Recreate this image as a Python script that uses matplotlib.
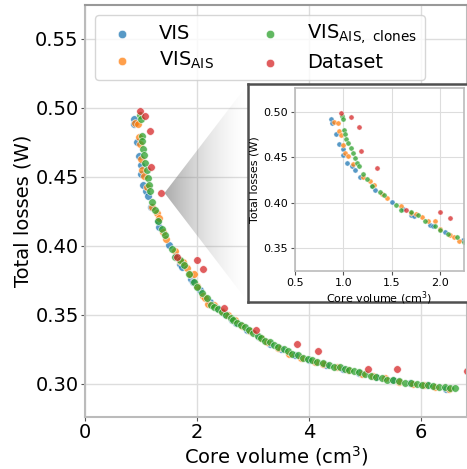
import numpy as np
import matplotlib
matplotlib.use("Agg")
import matplotlib.pyplot as plt
from matplotlib.patches import Polygon

# VIS
vis_x = [0.87, 0.88, 0.92, 0.96, 1.00, 1.00, 1.04, 1.09, 1.12, 1.17, 1.30, 1.33,
         1.50, 1.62, 1.70, 1.73, 1.90, 1.93, 2.05, 2.24, 2.35, 2.50, 2.62, 2.70,
         2.90, 3.10, 3.30, 3.50, 3.75, 4.00, 4.30, 4.60, 4.90, 5.20, 5.50, 5.80,
         6.10, 6.45]
vis_y = [0.492, 0.488, 0.475, 0.465, 0.459, 0.452, 0.444, 0.440, 0.436, 0.428, 0.418, 0.414,
         0.401, 0.393, 0.387, 0.385, 0.376, 0.374, 0.368, 0.359, 0.355, 0.351, 0.346, 0.344,
         0.339, 0.334, 0.329, 0.325, 0.321, 0.317, 0.314, 0.311, 0.308, 0.305, 0.3025, 0.3005,
         0.299, 0.2965]

# VIS_AIS
ais_x = [0.90, 0.95, 0.96, 0.98, 1.00, 1.02, 1.05, 1.10, 1.20, 1.28, 1.32, 1.40,
         1.45, 1.60, 1.70, 1.75, 1.82, 1.88, 1.95, 2.00, 2.10, 2.15, 2.20, 2.30,
         2.45, 2.55, 2.68, 2.80, 2.95, 3.15, 3.25, 3.45, 3.65, 3.85, 4.10, 4.25,
         4.50, 4.70, 4.95, 5.15, 5.35, 5.60, 5.85, 6.05, 6.25, 6.50]
ais_y = [0.489, 0.488, 0.479, 0.474, 0.463, 0.455, 0.451, 0.443, 0.428, 0.424, 0.420, 0.410,
         0.405, 0.396, 0.389, 0.388, 0.384, 0.380, 0.380, 0.371, 0.364, 0.362, 0.358, 0.357,
         0.353, 0.350, 0.346, 0.342, 0.338, 0.333, 0.330, 0.326, 0.322, 0.319, 0.316, 0.3145,
         0.312, 0.310, 0.3075, 0.3055, 0.304, 0.3015, 0.300, 0.2995, 0.298, 0.2965]

# VIS_AIS, clones
cl_x = [0.99, 1.00, 1.01, 1.02, 1.03, 1.05, 1.08, 1.10, 1.12, 1.14, 1.16, 1.20,
        1.25, 1.30, 1.38, 1.42, 1.55, 1.60, 1.70, 1.77, 1.85, 1.95, 2.00, 2.08,
        2.18, 2.25, 2.30, 2.38, 2.45, 2.52, 2.60, 2.65, 2.72, 2.78, 2.85, 2.92,
        3.00, 3.08, 3.15, 3.22, 3.30, 3.38, 3.45, 3.55, 3.62, 3.70, 3.80, 3.90,
        3.98, 4.05, 4.15, 4.25, 4.35, 4.45, 4.55, 4.65, 4.72, 4.80, 4.90, 5.00,
        5.10, 5.20, 5.30, 5.40, 5.50, 5.60, 5.72, 5.82, 5.92, 6.02, 6.12, 6.22,
        6.32, 6.42, 6.52, 6.60]
cl_y = [0.495, 0.492, 0.480, 0.476, 0.470, 0.466, 0.460, 0.455, 0.449, 0.444, 0.440, 0.432,
        0.426, 0.418, 0.412, 0.408, 0.398, 0.392, 0.390, 0.386, 0.380, 0.374, 0.370, 0.366,
        0.362, 0.357, 0.356, 0.354, 0.352, 0.350, 0.348, 0.346, 0.344, 0.343, 0.341, 0.339,
        0.337, 0.335, 0.333, 0.331, 0.330, 0.328, 0.327, 0.325, 0.324, 0.322, 0.321, 0.319,
        0.318, 0.3175, 0.316, 0.315, 0.3135, 0.3125, 0.312, 0.3105, 0.310, 0.3095, 0.3085, 0.307,
        0.306, 0.305, 0.304, 0.303, 0.3025, 0.302, 0.301, 0.3005, 0.300, 0.2995, 0.299, 0.2985,
        0.298, 0.2975, 0.297, 0.297]

# Dataset
ds_x = [0.98, 1.08, 1.16, 1.18, 1.35, 1.65, 2.00, 2.11, 2.48, 3.05, 3.78, 4.16,
        5.05, 5.57, 6.82]
ds_y = [0.498, 0.494, 0.483, 0.457, 0.438, 0.392, 0.390, 0.383, 0.355, 0.339, 0.329, 0.324,
        0.311, 0.311, 0.309]

series = [
    (vis_x, vis_y, '#1f77b4', 'VIS'),
    (ais_x, ais_y, '#ff7f0e', r'VIS$_{\mathrm{AIS}}$'),
    (cl_x, cl_y, '#2ca02c', r'VIS$_{\mathrm{AIS,\ clones}}$'),
    (ds_x, ds_y, '#d62728', 'Dataset'),
]

W, H = 467, 469
fig = plt.figure(figsize=(W / 100, H / 100), dpi=100)
ax = fig.add_axes([85 / W, (H - 417) / H, (W - 85) / W, (417 - 5) / H])


def style(a, fs, lw, pad):
    a.grid(True, color='#dddddd', linewidth=lw)
    a.set_axisbelow(True)
    for s in a.spines.values():
        s.set_color('#bbbbbb')
        s.set_linewidth(lw * 1.5)
    a.tick_params(labelsize=fs, color='#555555', length=3, pad=pad)


for x, y, c, lab in series:
    ax.scatter(x, y, s=30, color=c, alpha=0.75, edgecolor='white', linewidth=0.5, label=lab)

xlim = (0, 6.82)
ylim = (0.276, 0.5746)
ax.set_xlim(xlim)
ax.set_ylim(ylim)
ax.set_xticks([0, 2, 4, 6])
ax.set_yticks([0.30, 0.35, 0.40, 0.45, 0.50, 0.55])
style(ax, 14, 1.0, 1.5)
ax.spines['top'].set_color('#999999')
ax.set_xlabel('Core volume (cm$^3$)', fontsize=14, labelpad=1)
ax.set_ylabel('Total losses (W)', fontsize=14, labelpad=2)
ax.legend(loc='upper left', ncol=2, fontsize=14, handletextpad=0.9,
          columnspacing=1.9, labelspacing=0.35, markerscale=1.1)

# zoom cone from the main curve to the inset box
fx0, fy_top, fy_bot = 248 / W, (H - 84) / H, (H - 302) / H
inv = ax.transData.inverted()
c_top = inv.transform(fig.transFigure.transform((fx0, fy_top)))
c_bot = inv.transform(fig.transFigure.transform((fx0, fy_bot)))
apex = (1.42, 0.4384)
tri = Polygon([apex, c_top, c_bot], closed=True, facecolor='none',
              edgecolor='none', transform=ax.transData)
ax.add_patch(tri)
grad = np.zeros((1, 256, 4))
grad[..., :3] = 0.5
grad[0, :, 3] = 0.65 * (1 - np.linspace(0, 1, 256)) ** 1.6
im = ax.imshow(grad, extent=[apex[0], c_top[0], c_bot[1], c_top[1]],
               aspect='auto', zorder=1.5, clip_path=tri, clip_on=True)
ax.set_xlim(xlim)
ax.set_ylim(ylim)

# framed box holding the inset
frame = fig.add_axes([fx0, fy_bot, 0.6, fy_top - fy_bot])
frame.set_xticks([])
frame.set_yticks([])
for s in frame.spines.values():
    s.set_color('#505050')
    s.set_linewidth(1.8)

ins = fig.add_axes([295 / W, (H - 271) / H, (464 - 295) / W, (271 - 88) / H])
for x, y, c, lab in series:
    ins.scatter(x, y, s=14, color=c, alpha=0.75, edgecolor='white', linewidth=0.4)
ins.set_xlim(0.5, 2.25)
ins.set_ylim(0.325, 0.526)
ins.set_xticks([0.5, 1.0, 1.5, 2.0])
ins.set_yticks([0.35, 0.40, 0.45, 0.50])
style(ins, 8, 0.8, 2)
ins.set_xlabel('Core volume (cm$^3$)', fontsize=8, labelpad=1)
ins.set_ylabel('Total losses (W)', fontsize=8, labelpad=3)

fig.savefig('out.png', dpi=100)
